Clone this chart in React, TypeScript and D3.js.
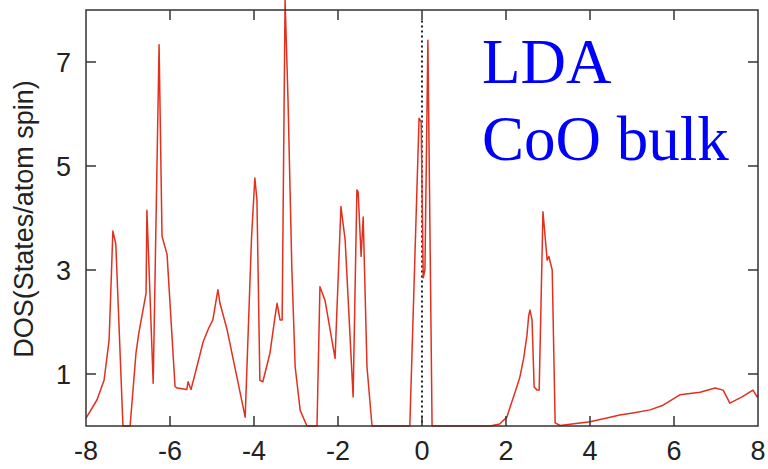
import * as d3 from "d3";
import { useEffect, useRef } from "react";

// energy (eV) relative to Fermi level
const energy = [
  -8.0, -7.74, -7.57, -7.45, -7.36, -7.29, -7.12, -6.95, -6.81, -6.74, -6.57, -6.55, -6.4, -6.26,
  -6.19, -6.07, -5.88, -5.83, -5.6, -5.57, -5.5, -5.36, -5.21, -5.08, -4.98, -4.86, -4.81, -4.64,
  -4.21, -4.06, -3.98, -3.93, -3.86, -3.79, -3.62, -3.5, -3.45, -3.38, -3.33, -3.26, -3.19, -3.1,
  -3.02, -2.9, -2.74, -2.5, -2.43, -2.31, -2.07, -1.93, -1.83, -1.64, -1.55, -1.52, -1.45, -1.4,
  -1.31, -1.19, -0.29, -0.07, -0.02, 0.03, 0.07, 0.14, 0.24, 1.62, 1.85, 2.02, 2.1, 2.22, 2.33,
  2.42, 2.5, 2.54, 2.57, 2.62, 2.67, 2.74, 2.79, 2.88, 2.98, 3.02, 3.1, 3.17, 3.29, 4.0, 4.48,
  4.71, 5.02, 5.43, 5.74, 6.14, 6.62, 6.98, 7.17, 7.33, 7.62, 7.88, 7.98, 8.0,
];

// DOS (states/atom spin)
const dos = [
  0.15, 0.5, 0.88, 1.65, 3.75, 3.5, 0, 0, 1.4, 1.8, 2.55, 4.15, 0.82, 7.33,
  3.65, 3.3, 0.76, 0.73, 0.7, 0.85, 0.7, 1.14, 1.62, 1.88, 2.04, 2.62, 2.36, 1.85,
  0.17, 3.6, 4.77, 4.35, 0.88, 0.85, 1.4, 2.1, 2.36, 2.04, 2.04, 8.2, 6.27, 3.06,
  1.14, 0.3, 0, 0, 2.68, 2.42, 1.3, 4.22, 3.58, 0.56, 4.54, 4.5, 3.26, 4.02,
  1.14, 0, 0, 5.92, 5.85, 2.85, 3.0, 7.42, 0, 0, 0.04, 0.17, 0.37, 0.66, 0.94,
  1.3, 1.75, 2.12, 2.23, 2.04, 0.75, 0.69, 0.69, 4.12, 3.19, 3.26, 3.0, 0.06, 0.01, 0.08, 0.17,
  0.21, 0.25, 0.31, 0.4, 0.6, 0.65, 0.73, 0.69, 0.44, 0.56, 0.69, 0.56, 0.6,
];

const xTicks = [-8, -6, -4, -2, 0, 2, 4, 6, 8];
const yTicks = [1, 3, 5, 7];
const labels = ["LDA", "CoO bulk"];

const width = 768;
const height = 469;

export default function App() {
  const svgRef = useRef<SVGSVGElement | null>(null);

  useEffect(() => {
    if (!svgRef.current) return;
    const svg = d3.select(svgRef.current);
    svg.selectAll("*").remove();

    const left = 86, right = 758, top = 10, bottom = 426;
    const x = d3.scaleLinear().domain([-8, 8]).range([left, right]);
    const y = d3.scaleLinear().domain([0, 8]).range([bottom, top]);
    const font = "'Liberation Sans', Arial, sans-serif";
    const axisColor = "#333";

    // Fermi level
    svg
      .append("line")
      .attr("x1", x(0))
      .attr("x2", x(0))
      .attr("y1", y(7.8))
      .attr("y2", y(0))
      .attr("stroke", "#222")
      .attr("stroke-width", 2)
      .attr("stroke-dasharray", "2,3");

    const pts = energy.map((e, i) => [e, dos[i]] as [number, number]);
    const line = d3
      .line<[number, number]>()
      .x((d) => x(d[0]))
      .y((d) => y(d[1]));

    svg
      .append("path")
      .attr("d", line(pts))
      .attr("fill", "none")
      .attr("stroke", "#e2301f")
      .attr("stroke-width", 1.5)
      .attr("stroke-linejoin", "round");

    // frame
    svg
      .append("rect")
      .attr("x", left)
      .attr("y", top)
      .attr("width", right - left)
      .attr("height", bottom - top)
      .attr("fill", "none")
      .attr("stroke", axisColor)
      .attr("stroke-width", 1.5);

    // ticks
    const tl = 10;
    xTicks.slice(1, -1).forEach((t) => {
      svg.append("line").attr("x1", x(t)).attr("x2", x(t)).attr("y1", bottom).attr("y2", bottom - tl)
        .attr("stroke", axisColor).attr("stroke-width", 1.5);
      svg.append("line").attr("x1", x(t)).attr("x2", x(t)).attr("y1", top).attr("y2", top + tl)
        .attr("stroke", axisColor).attr("stroke-width", 1.5);
    });
    yTicks.forEach((t) => {
      svg.append("line").attr("x1", left).attr("x2", left + tl).attr("y1", y(t)).attr("y2", y(t))
        .attr("stroke", axisColor).attr("stroke-width", 1.5);
      svg.append("line").attr("x1", right).attr("x2", right - tl).attr("y1", y(t)).attr("y2", y(t))
        .attr("stroke", axisColor).attr("stroke-width", 1.5);
    });

    svg
      .selectAll(".xlab")
      .data(xTicks)
      .join("text")
      .attr("x", (d) => x(d))
      .attr("y", 460)
      .attr("text-anchor", "middle")
      .attr("font-family", font)
      .attr("font-size", 27)
      .attr("fill", "#222")
      .text((d) => d);

    svg
      .selectAll(".ylab")
      .data(yTicks)
      .join("text")
      .attr("x", 71)
      .attr("y", (d) => y(d))
      .attr("dy", "0.36em")
      .attr("text-anchor", "end")
      .attr("font-family", font)
      .attr("font-size", 27)
      .attr("fill", "#222")
      .text((d) => d);

    svg
      .append("text")
      .attr("transform", `translate(33, 219) rotate(-90)`)
      .attr("text-anchor", "middle")
      .attr("font-family", font)
      .attr("font-size", 27)
      .attr("fill", "#222")
      .text("DOS(States/atom spin)");

    svg
      .selectAll(".lbl")
      .data(labels)
      .join("text")
      .attr("x", 482)
      .attr("y", (d, i) => 83 + i * 77)
      .attr("font-family", "'Liberation Serif', 'Times New Roman', serif")
      .attr("font-size", 63)
      .attr("fill", "#0000ff")
      .text((d) => d);
  }, []);

  return (
    <svg
      ref={svgRef}
      width={width}
      height={height}
      style={{ position: "absolute", left: 0, top: 0, background: "#fff" }}
    ></svg>
  );
}
